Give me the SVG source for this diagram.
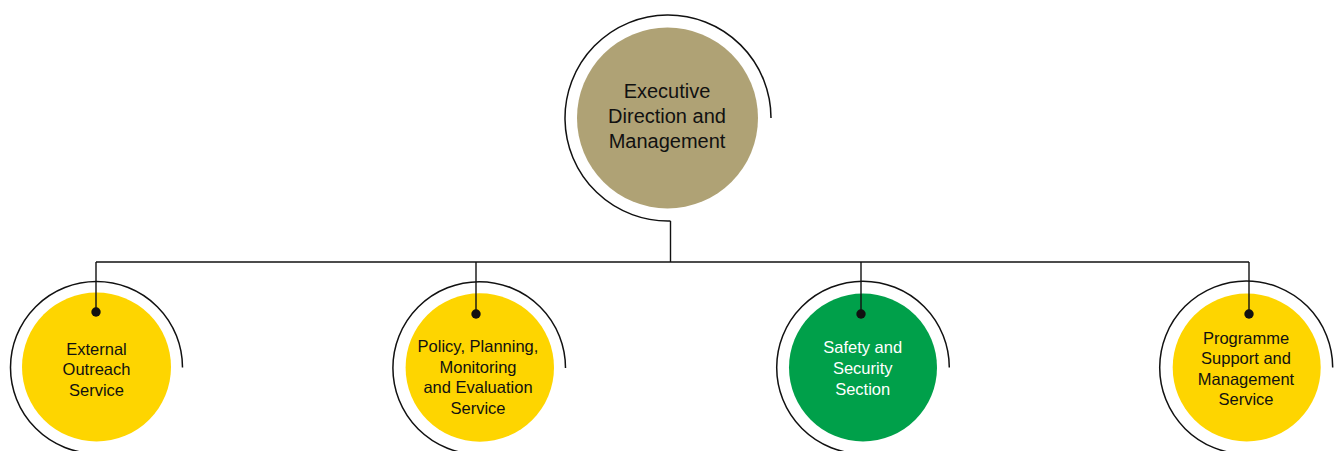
<svg xmlns="http://www.w3.org/2000/svg" width="1338" height="451" viewBox="0 0 1338 451">
<style>
.arc{fill:none;stroke:#111;stroke-width:1.5}
.conn{fill:none;stroke:#111;stroke-width:1.4}
.dot{fill:#111}
.t{font-family:"Liberation Sans",Arial,sans-serif;font-size:16.5px;text-anchor:middle;fill:#111}
.tt{font-family:"Liberation Sans",Arial,sans-serif;font-size:20px;text-anchor:middle;fill:#111}
.yel{fill:#FED500}
</style>
<rect width="1338" height="451" fill="#fff"/>
<g id="node-executive">
<path class="arc" d="M771 118 A103 103 0 1 0 670.5 221"/>
<circle cx="667.5" cy="118" r="90.5" fill="#AFA275"/>
<text class="tt" x="667" y="98">Executive</text>
<text class="tt" x="667" y="123">Direction and</text>
<text class="tt" x="667" y="148">Management</text>
</g>
<g id="node-external">
<path class="arc" d="M182.5 367.5 A86 86 0 1 0 96.5 453.5"/>
<circle class="yel" cx="96.5" cy="367" r="74.5"/>
<text class="t" x="96.5" y="354.5">External</text>
<text class="t" x="96.5" y="375">Outreach</text>
<text class="t" x="96.5" y="395.5">Service</text>
</g>
<g id="node-policy">
<path class="arc" d="M565.5 368 A86.3 86.3 0 1 0 479.2 454.3"/>
<circle class="yel" cx="479.8" cy="367.5" r="74.2"/>
<text class="t" x="478" y="352">Policy, Planning,</text>
<text class="t" x="478" y="372.5">Monitoring</text>
<text class="t" x="478" y="393">and Evaluation</text>
<text class="t" x="478" y="413.5">Service</text>
</g>
<g id="node-safety">
<path class="arc" d="M949.3 367.5 A86.3 86.3 0 1 0 863 453.8"/>
<circle cx="863" cy="367.5" r="74" fill="#00A04A"/>
<text class="t" x="862.7" y="353" style="fill:#fff">Safety and</text>
<text class="t" x="862.7" y="373.5" style="fill:#fff">Security</text>
<text class="t" x="862.7" y="394.5" style="fill:#fff">Section</text>
</g>
<g id="node-programme">
<path class="arc" d="M1332.7 367.5 A86.5 86.5 0 1 0 1246.2 454"/>
<circle class="yel" cx="1246.7" cy="367.5" r="74"/>
<text class="t" x="1246" y="343.5">Programme</text>
<text class="t" x="1246" y="364">Support and</text>
<text class="t" x="1246" y="384.5">Management</text>
<text class="t" x="1246" y="405">Service</text>
</g>
<g id="connectors">
<path class="conn" d="M670.5 221 V262"/>
<path class="conn" d="M96 262 H1249"/>
<path class="conn" d="M96 262 V312"/>
<path class="conn" d="M476 262 V314"/>
<path class="conn" d="M861 262 V314"/>
<path class="conn" d="M1249 262 V314"/>
<circle class="dot" cx="96" cy="312" r="4.7"/>
<circle class="dot" cx="476" cy="314" r="4.7"/>
<circle class="dot" cx="861" cy="314" r="4.7"/>
<circle class="dot" cx="1249" cy="314" r="4.7"/>
</g>
</svg>
